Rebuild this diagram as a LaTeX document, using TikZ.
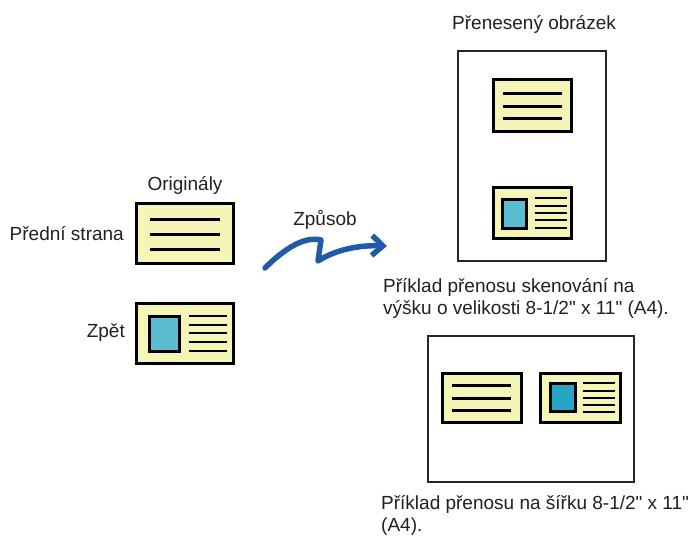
\documentclass[tikz,border=0pt]{standalone}
\usepackage{fontspec}
\setmainfont{Liberation Sans}[Ligatures=TeXOff]
\usepackage{xcolor}
\usetikzlibrary{arrows.meta,positioning}
\definecolor{cardYellow}{RGB}{245,245,184}
\definecolor{photoBlue}{RGB}{92,188,210}
\definecolor{photoTeal}{RGB}{38,166,196}
\definecolor{arrowBlue}{RGB}{33,90,168}
\definecolor{txtgray}{RGB}{35,31,32}

\begin{document}
\begin{tikzpicture}[x=1pt,y=-1pt,
  lbl/.style={text=txtgray, inner sep=0pt, font=\fontsize{19}{21.5}\selectfont},
  card/.style={draw=black, line width=3pt, fill=cardYellow, inner sep=0pt},
  pageframe/.style={draw=black!85, line width=2pt, inner sep=0pt},
  textline/.style={line width=3pt},
  smallline/.style={line width=2.4pt},
  photo/.style={draw=black, line width=3pt, fill=photoBlue, inner sep=0pt}]
\useasboundingbox (0,0) rectangle (689,536);

% originals
\node[card, minimum width=97pt, minimum height=60pt] (front) at (185,233.5) {};
\foreach \y in {219,234,249}
{
    \draw[textline] (150,\y) -- (220,\y);
}
\node[card, minimum width=97pt, minimum height=60pt] (back) at (185,333.5) {};
\node[photo, minimum width=30pt, minimum height=35pt] (backphoto) at (164.5,334) {};
\foreach \y in {316,325,333,342,351}
{
    \draw[smallline] (189,\y) -- (227,\y);
}
\node[lbl, anchor=base] (orig) at (185,190) {Originály};
\node[lbl, anchor=base east] (frontlbl) at (124,240) {Přední strana};
\node[lbl, anchor=base east] (backlbl) at (125,337) {Zpět};

% method arrow
\coordinate (wstart) at (265,268);
\coordinate (wend) at (387,246);
\draw[arrowBlue, line width=5.5pt, line cap=round, line join=round,
      -{Straight Barb[length=11pt,width=20pt]}]
    (wstart) .. controls (285,248) and (305,236) .. (321,240)
    -- (318,261) .. controls (335,250) and (358,245) .. (wend);
\node[lbl, anchor=base] (method) at (325,225) {Způsob};

% portrait result
\node[pageframe, minimum width=148pt, minimum height=210pt] (portpage) at (532,156) {};
\node[card, minimum width=78pt, minimum height=52pt] (portfront) at (532.5,105.5) {};
\foreach \y in {93,106,118}
{
    \draw[textline] (503,\y) -- (562,\y);
}
\node[card, minimum width=78pt, minimum height=51pt] (portback) at (532.5,213) {};
\node[photo, minimum width=24pt, minimum height=29pt] (portphoto) at (514.5,214) {};
\foreach \y in {198,206,213,220,228}
{
    \draw[smallline] (535,\y) -- (567,\y);
}
\node[lbl, anchor=base west] (transf) at (452,29) {Přenesený obrázek};
\node[lbl, anchor=base west, align=left] (portcap) at (383,314)
    {Příklad přenosu skenování na\\výšku o velikosti 8-1/2" x 11" (A4).};

% landscape result
\node[pageframe, minimum width=206pt, minimum height=146pt] (landpage) at (531,409) {};
\node[card, minimum width=79pt, minimum height=49pt] (landfront) at (482,398) {};
\foreach \y in {385,398,410}
{
    \draw[textline] (452,\y) -- (511,\y);
}
\node[card, minimum width=80pt, minimum height=49pt] (landback) at (580.5,398) {};
\node[photo, fill=photoTeal, minimum width=25pt, minimum height=28pt] (landphoto) at (563,397.5) {};
\foreach \y in {383,391,398,405,412}
{
    \draw[smallline] (583,\y) -- (615,\y);
}
\node[lbl, anchor=base west, align=left] (landcap) at (381,531)
    {Příklad přenosu na šířku 8-1/2" x 11"\\(A4).};
\end{tikzpicture}
\end{document}
